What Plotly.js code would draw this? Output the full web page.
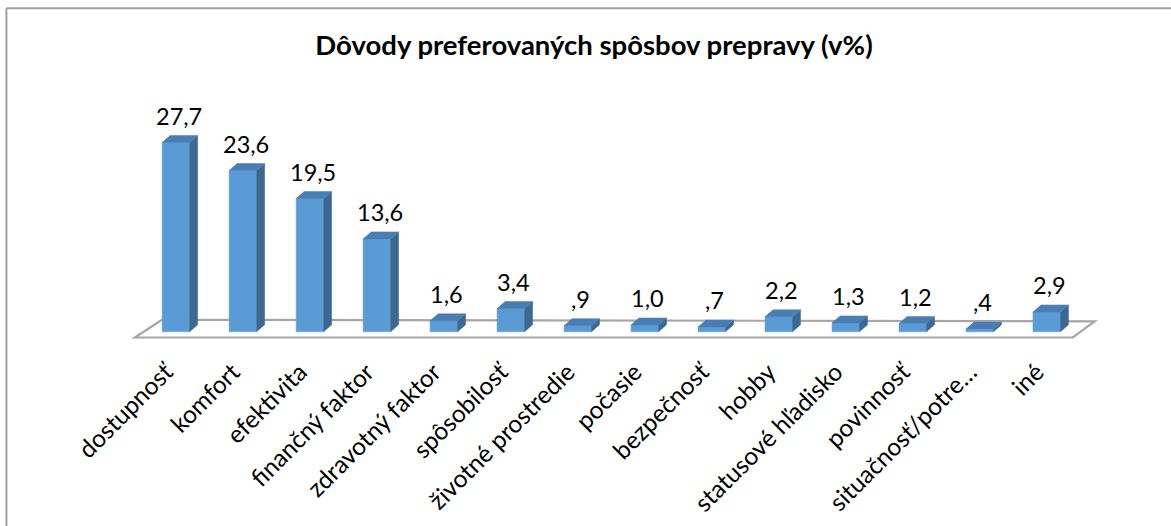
<!DOCTYPE html>
<html><head><meta charset="utf-8">
<script src="https://cdn.plot.ly/plotly-3.0.1.min.js"></script>
<style>html,body{margin:0;padding:0;background:#fff}#chart{width:1171px;height:526px}</style>
</head><body><div id="chart"></div>
<script>
const categories = ['dostupnosť','komfort','efektivita','finančný faktor','zdravotný faktor','spôsobilosť','životné prostredie','počasie','bezpečnosť','hobby','statusové hľadisko','povinnosť','situačnosť/potre…','iné'];
const values = [27.7, 23.6, 19.5, 13.6, 1.6, 3.4, 0.9, 1.0, 0.7, 2.2, 1.3, 1.2, 0.4, 2.9];
const valueLabels = ['27,7','23,6','19,5','13,6','1,6','3,4',',9','1,0',',7','2,2','1,3','1,2',',4','2,9'];
const titleText = 'Dôvody preferovaných spôsbov prepravy (v%)';

// geometry
const W = 1171, H = 526;
const pxX = 67, c0 = 176;          // pixels per category, centre of first bar
const pxY = 6.83, zeroPx = 332;    // pixels per unit, zero line
const xRange = [-0.7, 13.9], yRange = [-1.2, 31];
const L = c0 + xRange[0]*pxX;
const R = W - (c0 + xRange[1]*pxX);
const T = zeroPx - yRange[1]*pxY;
const B = H - (zeroPx - yRange[0]*pxY);
const PW = W - L - R, PH = H - T - B;
const dX = 8/pxX, dY = 7/pxY, hw = 0.205;
const px2x = p => (p - c0)/pxX;
const px2y = p => (zeroPx - p)/pxY;
const ppx = p => (p - L)/PW;
const ppy = p => 1 - (p - T)/PH;

const idx = categories.map((c,i)=>i);
const sideX = [], sideY = [], topX = [], topY = [];
idx.forEach(i => {
  const v = values[i];
  sideX.push(i+hw, i+hw+dX, i+hw+dX, i+hw, i+hw, null);
  sideY.push(0, dY, v+dY, v, 0, null);
  topX.push(i-hw, i+hw, i+hw+dX, i-hw+dX, i-hw, null);
  topY.push(v, v, v+dY, v+dY, v, null);
});

const traces = [
  {type:'bar', x: idx, y: values, width: 2*hw, marker:{color:'#5b9bd5', line:{color:'#6aa6dc', width:0.6}}, hoverinfo:'skip'},
  {type:'scatter', mode:'lines', x: sideX, y: sideY, fill:'toself', fillcolor:'#3d6890', line:{color:'#3d6890', width:0.5}, hoverinfo:'skip', cliponaxis:false},
  {type:'scatter', mode:'lines', x: topX, y: topY, fill:'toself', fillcolor:'#4a7db3', line:{color:'#4a7db3', width:0.5}, hoverinfo:'skip', cliponaxis:false}
];

const floorPath = 'M ' + px2x(135) + ',' + px2y(337.7) + ' L ' + px2x(1073) + ',' + px2y(337.7) +
  ' L ' + px2x(1095) + ',' + px2y(321.5) + ' L ' + px2x(162) + ',' + px2y(320) + ' Z';

const layout = {
  width: W, height: H,
  margin: {l: L, r: R, t: T, b: B, pad: 0},
  paper_bgcolor: '#fff', plot_bgcolor: 'rgba(0,0,0,0)',
  showlegend: false,
  font: {family: 'Lato, "Open Sans", sans-serif', color: '#000'},
  title: {text: '<b>' + titleText + '</b>', font: {size: 27.5, color: '#000', family: 'Lato, sans-serif'},
          xref: 'container', yref: 'container', x: 594/W, xanchor: 'center', y: 1 - 45/H, yanchor: 'middle'},
  xaxis: {range: xRange, tickmode: 'array', tickvals: idx, ticktext: categories, tickangle: -45,
          ticklabelstandoff: 12, ticklabelshift: -10,
          tickfont: {size: 24.5, color: '#000'}, showgrid: false, zeroline: false, showline: false, ticks: '', automargin: false, fixedrange: true},
  yaxis: {range: yRange, visible: false, showgrid: false, zeroline: false, automargin: false, fixedrange: true},
  shapes: [
    {type: 'path', xref: 'x', yref: 'y', path: floorPath, fillcolor: '#fff', line: {color: '#a6a6a6', width: 2.2}, layer: 'below'},
    {type: 'line', xref: 'paper', yref: 'paper', x0: ppx(6.5), x1: ppx(W+5), y0: ppy(8.5), y1: ppy(8.5), line: {color: '#a0a0a0', width: 2}},
    {type: 'line', xref: 'paper', yref: 'paper', x0: ppx(6.5), x1: ppx(6.5), y0: ppy(8.5), y1: ppy(H+5), line: {color: '#a0a0a0', width: 2}}
  ],
  annotations: idx.map(i => ({x: i, y: values[i], xref: 'x', yref: 'y', text: valueLabels[i], showarrow: false,
    yshift: 27, xshift: 3, yanchor: 'middle', xanchor: 'center', font: {size: 23.5, color: '#000'}}))
};

Plotly.newPlot('chart', traces, layout, {staticPlot: true, displayModeBar: false});
</script></body></html>
